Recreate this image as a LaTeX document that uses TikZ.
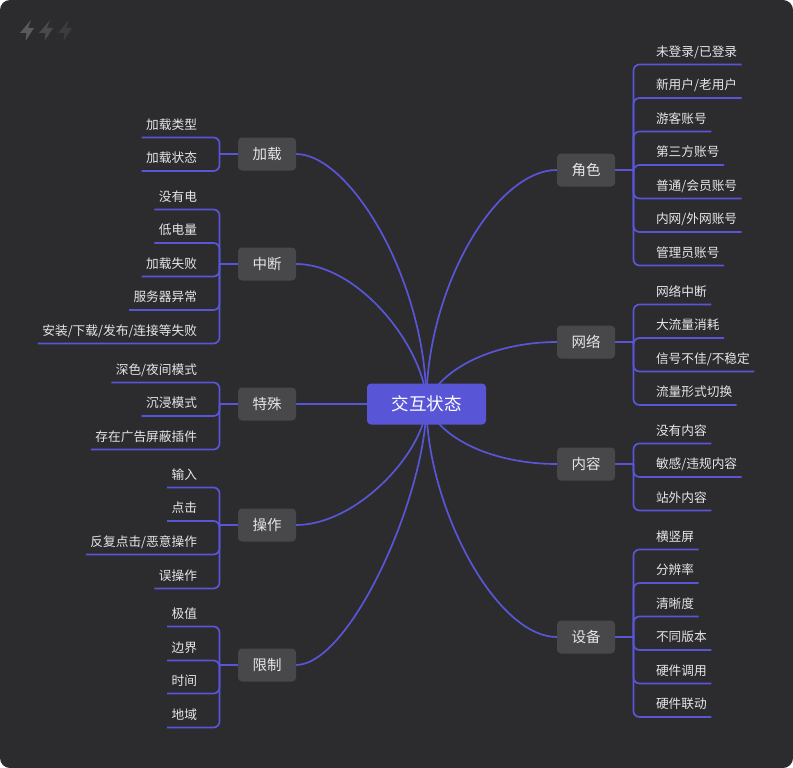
\documentclass[tikz,border=0pt]{standalone}
\usepackage{fontspec}
\usepackage{xcolor}
\setmainfont{Noto Sans CJK SC}
\usetikzlibrary{backgrounds}
\definecolor{boardbg}{HTML}{2C2C2E}
\definecolor{nodegray}{HTML}{48484A}
\definecolor{indigo}{HTML}{5856D6}
\definecolor{leaftext}{HTML}{E5E5EA}

\begin{document}
\begin{tikzpicture}[
  x=1pt, y=-1pt,
  hub/.style={fill=indigo, text=white, rounded corners=4pt, minimum width=119pt, minimum height=41pt, inner sep=0pt, outer sep=0pt, font=\fontsize{17.5}{20}\selectfont},
  branch/.style={fill=nodegray, text=leaftext, rounded corners=4pt, minimum width=58pt, minimum height=33pt, inner sep=0pt, outer sep=0pt, font=\fontsize{14.5}{16}\selectfont},
  leaf/.style={text=leaftext, inner xsep=4.5pt, inner ysep=7pt, outer sep=0pt, text height=11.9pt, text depth=1.1pt, font=\fontsize{12.7}{15}\selectfont},
  leafl/.style={leaf, anchor=east},
  leafr/.style={leaf, anchor=west},
  curve/.style={draw=indigo, line width=1.7pt},
  stem/.style={draw=indigo, line width=1.7pt, rounded corners=6pt}]
\useasboundingbox (0,0) rectangle (793,768);
\node[hub] (state) at (426.5,404) {交互状态};
% left side
\node[branch] (load) at (267,154) {加载};
\node[branch] (break) at (267,264) {中断};
\node[branch] (special) at (267,404) {特殊};
\node[branch] (operate) at (267,525) {操作};
\node[branch] (limit) at (267,665) {限制};
% right side
\node[branch] (role) at (586,170) {角色};
\node[branch] (network) at (586,342) {网络};
\node[branch] (content) at (586,464) {内容};
\node[branch] (device) at (586,637) {设备};
\begin{pgfonlayer}{background}
\fill[white] (0,0) rectangle (793,768);
\fill[boardbg, rounded corners=10pt] (0,0) rectangle (793,768);
% curves start under the hub
\draw[curve] (state.center) .. controls (426,280) and (350,154) .. (load.east);
\draw[curve] (state.center) .. controls (426,350) and (360,264) .. (break.east);
\draw[curve] (state.center) -- (special.east);
\draw[curve] (state.center) .. controls (426,450) and (358,525) .. (operate.east);
\draw[curve] (state.center) .. controls (426,496) and (350,665) .. (limit.east);
\draw[curve] (state.center) .. controls (426,290) and (495,170) .. (role.west);
\draw[curve] (state.center) .. controls (440,368) and (495,342) .. (network.west);
\draw[curve] (state.center) .. controls (440,440) and (495,464) .. (content.west);
\draw[curve] (state.center) .. controls (426,504) and (495,637) .. (device.west);
\end{pgfonlayer}
% bolts
\foreach \x/\c in {0/5A5A5C, 19/4A4A4C, 38/3C3C3E} {
  \definecolor{boltc}{HTML}{\c}
  \fill[boltc, shift={(\x,0)}] (31,20) -- (20,33) -- (26.5,33) -- (25.5,41) -- (34,28) -- (28,28) -- cycle;
}
\foreach \b in {load,break,special,operate,limit} {
  \coordinate (\b trunk) at ([xshift=-18.5pt]\b.west);
  \draw[stem] (\b.west) -- (\b trunk);
}
\foreach \b in {role,network,content,device} {
  \coordinate (\b trunk) at ([xshift=18.5pt]\b.east);
  \draw[stem] (\b.east) -- (\b trunk);
}
\foreach \y/\t [count=\i] in {124/加载类型, 157.5/加载状态} {
  \node[leafl] (load\i) at (201.5,\y) {\t};
  \draw[stem] (loadtrunk) |- (load\i.south east) -- (load\i.south west);
}
\foreach \y/\t [count=\i] in {196/没有电, 229.5/低电量, 263/加载失败, 296.5/服务器异常, 330/{安装/下载/发布/连接等失败}} {
  \node[leafl] (break\i) at (201.5,\y) {\t};
  \draw[stem] (breaktrunk) |- (break\i.south east) -- (break\i.south west);
}
\foreach \y/\t [count=\i] in {369/{深色/夜间模式}, 402.5/沉浸模式, 436/存在广告屏蔽插件} {
  \node[leafl] (special\i) at (201.5,\y) {\t};
  \draw[stem] (specialtrunk) |- (special\i.south east) -- (special\i.south west);
}
\foreach \y/\t [count=\i] in {474/输入, 507.5/点击, 541/{反复点击/恶意操作}, 575/误操作} {
  \node[leafl] (operate\i) at (201.5,\y) {\t};
  \draw[stem] (operatetrunk) |- (operate\i.south east) -- (operate\i.south west);
}
\foreach \y/\t [count=\i] in {613/极值, 647/边界, 680/时间, 714/地域} {
  \node[leafl] (limit\i) at (201.5,\y) {\t};
  \draw[stem] (limittrunk) |- (limit\i.south east) -- (limit\i.south west);
}
\foreach \y/\t [count=\i] in {51/{未登录/已登录}, 84.5/{新用户/老用户}, 118/游客账号, 151.5/第三方账号, 185/{普通/会员账号}, 218.5/{内网/外网账号}, 252/管理员账号} {
  \node[leafr] (role\i) at (651.5,\y) {\t};
  \draw[stem] (roletrunk) |- (role\i.south west) -- (role\i.south east);
}
\foreach \y/\t [count=\i] in {291/网络中断, 324.5/大流量消耗, 358/{信号不佳/不稳定}, 391.5/流量形式切换} {
  \node[leafr] (network\i) at (651.5,\y) {\t};
  \draw[stem] (networktrunk) |- (network\i.south west) -- (network\i.south east);
}
\foreach \y/\t [count=\i] in {430/没有内容, 463.5/{敏感/违规内容}, 497/站外内容} {
  \node[leafr] (content\i) at (651.5,\y) {\t};
  \draw[stem] (contenttrunk) |- (content\i.south west) -- (content\i.south east);
}
\foreach \y/\t [count=\i] in {536/横竖屏, 569.5/分辨率, 603/清晰度, 636.5/不同版本, 670/硬件调用, 703.5/硬件联动} {
  \node[leafr] (device\i) at (651.5,\y) {\t};
  \draw[stem] (devicetrunk) |- (device\i.south west) -- (device\i.south east);
}
\end{tikzpicture}
\end{document}
